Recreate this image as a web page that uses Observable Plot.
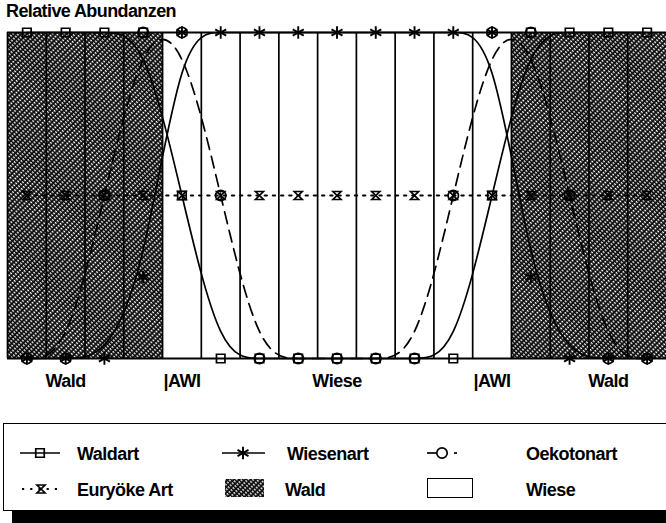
<!DOCTYPE html>
<html><head><meta charset="utf-8">
<script src="https://cdn.jsdelivr.net/npm/d3@7"></script>
<script src="https://cdn.jsdelivr.net/npm/@observablehq/plot@0.6"></script>
<style>
body{margin:0;background:#fff;font-family:"Liberation Sans",Arial,Helvetica,sans-serif;}
#wrap{position:relative;width:666px;height:523px;overflow:hidden;background:#fff;}
#chart{position:absolute;left:0;top:0;}
#title{position:absolute;left:6px;top:1px;font-weight:bold;font-size:18px;letter-spacing:-0.6px;color:#000;}
#shadow{position:absolute;left:12px;top:511px;width:700px;height:12px;background:#000;}
#legend{position:absolute;left:3px;top:423px;}
</style></head><body>
<div id="wrap">
  <div id="chart"></div>
  <div id="title">Relative Abundanzen</div>
  <div id="shadow"></div>
  <div id="legend"></div>
</div>
<script>
// ---- data ----
const stations   = [0,1,2,3,4,5,6,7,8,9,10,11,12,13,14,15,16];
const waldart    = [1,1,1,1,0.5,0,0,0,0,0,0,0,0.5,1,1,1,1];
const wiesenart  = [0,0,0,0.25,1,1,1,1,1,1,1,1,1,0.25,0,0,0];
const oekotonart = [0,0,0.5,1,1,0.5,0,0,0,0,0,0.5,1,1,0.5,0,0];
const euryokeArt = [0.5,0.5,0.5,0.5,0.5,0.5,0.5,0.5,0.5,0.5,0.5,0.5,0.5,0.5,0.5,0.5,0.5];
const bandFrom   = [-0.5, 3.5, 12.5];
const bandTo     = [3.5, 12.5, 16.5];
const bandType   = ["Wald","Wiese","Wald"];
const cellEdges  = [-0.5,0.5,1.5,2.5,3.5,4.5,5.5,6.5,7.5,8.5,9.5,10.5,11.5,12.5,13.5,14.5,15.5];
const zoneAt     = [1,4,8,12,15];
const zoneLabel  = ["Wald","|AWI","Wiese","|AWI","Wald"];
const legendNames = ["Waldart","Wiesenart","Oekotonart","Euryöke Art","Wald","Wiese"];

const rows = (vals) => stations.map((s,i)=>({x:s, y:vals[i]}));
const bands = bandFrom.map((f,i)=>({from:f, to:bandTo[i], type:bandType[i]}));
const zones = zoneAt.map((a,i)=>({at:a, label:zoneLabel[i]}));

const hourglass = {draw(ctx, size){
  const r = Math.sqrt(size/Math.PI)*0.8;
  ctx.moveTo(-r,-r); ctx.lineTo(r,-r); ctx.lineTo(-r,r); ctx.lineTo(r,r); ctx.closePath();
}};

const lineW = 1.7, mW = 1.7;
const chart = Plot.plot({
  width: 666, height: 400,
  marginLeft: 7, marginRight: 0, marginTop: 32, marginBottom: 42,
  x: {domain: [-0.5, 16.5], axis: null},
  y: {domain: [0, 1], axis: null},
  style: {background: "transparent", overflow: "visible"},
  marks: [
    Plot.rect(bands.filter(d=>d.type==="Wald"), {x1:"from", x2:"to", y1:0, y2:1, fill:"url(#waldHatch)"}),
    Plot.ruleX(cellEdges, {y1:0, y2:1, stroke:"#000", strokeWidth:1.7}),
    Plot.line(rows(waldart), {x:"x", y:"y", curve:"basis", stroke:"#000", strokeWidth:lineW}),
    Plot.line(rows(wiesenart), {x:"x", y:"y", curve:"basis", stroke:"#000", strokeWidth:lineW}),
    Plot.line(rows(oekotonart), {x:"x", y:"y", curve:"basis", stroke:"#000", strokeWidth:lineW, strokeDasharray:"12,7"}),
    Plot.line(rows(euryokeArt), {x:"x", y:"y", curve:"basis", stroke:"#000", strokeWidth:2.2, strokeDasharray:"2.2,6"}),
    Plot.ruleY([0,1], {stroke:"#000", strokeWidth:2.2}),
    Plot.dot(rows(waldart), {x:"x", y:"y", symbol:"square", r:4.8, fill:"none", stroke:"#000", strokeWidth:mW}),
    Plot.dot(rows(oekotonart), {x:"x", y:"y", symbol:"circle", r:5.2, fill:"none", stroke:"#000", strokeWidth:mW}),
    Plot.dot(rows(wiesenart), {x:"x", y:"y", symbol:"asterisk", r:6, fill:"none", stroke:"#000", strokeWidth:1.9}),
    Plot.dot(rows(euryokeArt), {x:"x", y:"y", symbol:hourglass, r:5, fill:"none", stroke:"#000", strokeWidth:mW}),
    Plot.text(zones, {x:"at", y:0, text:"label", dy:23, fontSize:18, fontWeight:"bold", fill:"#000",
      fontFamily:"Liberation Sans, Arial, sans-serif", textAnchor:"middle", lineAnchor:"middle"})
  ]
});
const svg = d3.select(chart);
const addHatch = (sel, id) => {
  const pat = sel.append("pattern").attr("id",id).attr("patternUnits","userSpaceOnUse")
    .attr("width",4).attr("height",2.8).attr("patternTransform","rotate(45)");
  pat.append("rect").attr("width",4).attr("height",2.8).attr("fill","#0a0a0a");
  pat.append("rect").attr("width",2.2).attr("height",1.3).attr("fill","#fff");
};
addHatch(svg.insert("defs", ":first-child"), "waldHatch");
svg.selectAll("text").style("letter-spacing","-0.5px");
document.getElementById("chart").appendChild(chart);

// ---- legend ----
const L = d3.select("#legend").append("svg").attr("width",700).attr("height",88)
  .style("display","block");
addHatch(L.append("defs"), "waldHatchL");
L.append("rect").attr("x",0.5).attr("y",0.5).attr("width",720).attr("height",87)
  .attr("fill","#fff").attr("stroke","#000").attr("stroke-width",1);
const sym = (type, cx, cy, r, sw) => {
  const p = d3.symbol().type(type).size(Math.PI*r*r)();
  L.append("path").attr("d",p).attr("transform",`translate(${cx},${cy})`)
    .attr("fill","none").attr("stroke","#000").attr("stroke-width",sw || mW);
};
const y1 = 30, y2 = 66;
const hline = (a, b, y, w, dash) => {
  const l = L.append("line").attr("x1",a).attr("x2",b).attr("y1",y).attr("y2",y)
    .attr("stroke","#000").attr("stroke-width",w);
  if (dash) l.attr("stroke-dasharray", dash);
};
// Waldart
hline(17, 57, y1, lineW);
sym(d3.symbolSquare, 37, y1, 4.8);
// Wiesenart
hline(219, 262, y1, lineW);
sym(d3.symbolAsterisk, 240, y1, 6, 1.9);
// Oekotonart
hline(424, 434, y1, lineW);
sym(d3.symbolCircle, 439, y1, 5.2);
hline(451, 454, y1, lineW);
// Euryöke
hline(19, 58, y2, 2.2, "2.2,6");
sym(hourglass, 38, y2, 5);
// Wald box
L.append("rect").attr("x",222).attr("y",56).attr("width",39).attr("height",18).attr("fill","url(#waldHatchL)");
// Wiese box
L.append("rect").attr("x",424.5).attr("y",55.5).attr("width",45).attr("height",19).attr("fill","#fff").attr("stroke","#000").attr("stroke-width",1);
const textX = [74, 284, 523, 74, 282, 523];
const textY = [y1, y1, y1, y2, y2, y2];
L.selectAll("text.lt").data(legendNames).join("text").attr("class","lt")
  .attr("x",(d,i)=>textX[i]).attr("y",(d,i)=>textY[i]+6.5)
  .attr("font-size",18).attr("font-weight","bold").attr("font-family","Liberation Sans, Arial, sans-serif")
  .style("letter-spacing","-0.5px").text(d=>d);
</script>
</body></html>
